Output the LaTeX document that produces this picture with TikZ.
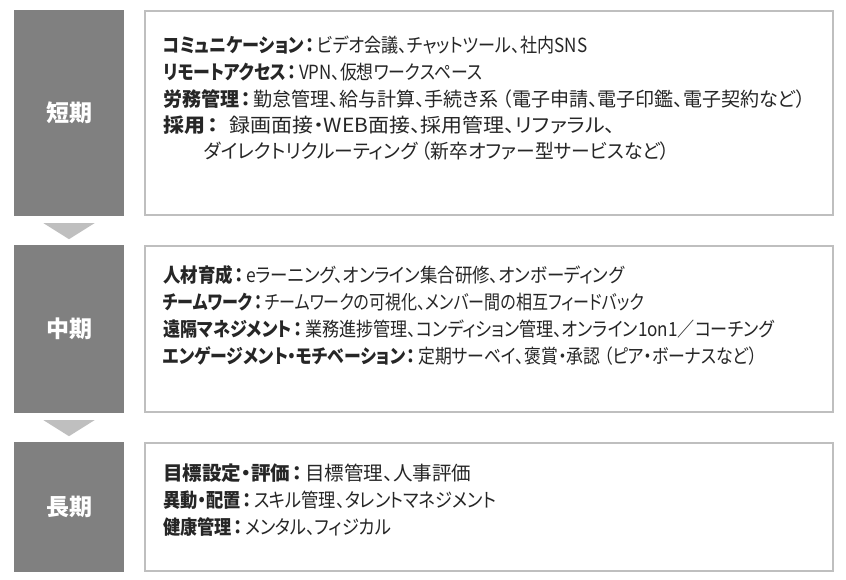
\documentclass[tikz,border=0pt]{standalone}
\usepackage{fontspec}
\usepackage{graphicx}
\setmainfont[RawFeature=+palt]{Noto Sans CJK JP}
\usetikzlibrary{calc}
\definecolor{termgray}{HTML}{808080}
\definecolor{framegray}{HTML}{BFBFBF}
\definecolor{inkgray}{HTML}{262626}
\newcommand\itemhead[1]{\textbf{#1\kern2pt：\kern3pt}}
% squeeze a line to the width it has in the chart
\newcommand\fitline[2]{\resizebox{#1pt}{\height}{#2}}
\tikzset{
  term/.style={fill=termgray, text=white, inner sep=0pt,
    font=\fontsize{23}{27}\selectfont\bfseries, minimum width=110pt},
  listframe/.style={draw=framegray, line width=1.5pt, fill=white,
    inner sep=0pt, minimum width=688pt},
  item/.style={anchor=west, inner sep=0pt, text=inkgray,
    font=\fontsize{19.5}{23}\selectfont},
  step arrow/.style={fill=framegray},
}
\begin{document}
\begin{tikzpicture}[x=1pt,y=-1pt]
        \useasboundingbox (0,0) rectangle (846,580);
        % three terms
        \node [term, minimum height=206pt] (short) at (69,113) {短期};
        \node [term, minimum height=168pt] (mid) at (69,329) {中期};
        \node [term, minimum height=130pt] (long) at (69,507) {長期};
        \node [listframe, minimum height=204pt] (short list) at (489,113) {};
        \node [listframe, minimum height=166pt] (mid list) at (489,329) {};
        \node [listframe, minimum height=128pt] (long list) at (489,507) {};
        % arrows between terms
        \fill
          [step arrow]
          ($(short.south)+(-25.5,7)$)
          -- ++(51,0)
          -- ++(-25.5,16)
          -- cycle
        ;
        \fill
          [step arrow]
          ($(mid.south)+(-25.5,7)$)
          -- ++(51,0)
          -- ++(-25.5,16)
          -- cycle
        ;
        % short term
        \node [item] (comm) at (163,45)
          {\fitline{424}{\itemhead{コミュニケーション}ビデオ会議、チャットツール、社内SNS}};
        \node [item] (remote) at (163,72)
          {\fitline{319}{\itemhead{リモートアクセス}VPN、仮想ワークスペース}};
        \node [item] (labor) at (163,99)
          {\fitline{642}{\itemhead{労務管理}勤怠管理、給与計算、手続き系 （電子申請、電子印鑑、電子契約など）}};
        \node [item] (hiring) at (163,125)
          {\fitline{452}{\itemhead{採用}\hspace{8pt}録画面接・WEB面接、採用管理、リファラル、}};
        \node [item] (hiring2) at (204,151)
          {\fitline{465}{ダイレクトリクルーティング （新卒オファー型サービスなど）}};
        % mid term
        \node [item] (training) at (163,275)
          {\fitline{461}{\itemhead{人材育成}eラーニング、オンライン集合研修、オンボーディング}};
        \node [item] (teamwork) at (163,302)
          {\fitline{481}{\itemhead{チームワーク}チームワークの可視化、メンバー間の相互フィードバック}};
        \node [item] (manage) at (163,329)
          {\fitline{611}{\itemhead{遠隔マネジメント}業務進捗管理、コンディション管理、オンライン1on1／コーチング}};
        \node [item] (engage) at (163,356)
          {\fitline{594}{\itemhead{エンゲージメント・モチベーション}定期サーベイ、褒賞・承認 （ピア・ボーナスなど）}};
        % long term
        \node [item] (goals) at (163,473)
          {\fitline{308}{\itemhead{目標設定・評価}目標管理、人事評価}};
        \node [item] (transfer) at (163,500)
          {\fitline{333}{\itemhead{異動・配置}スキル管理、タレントマネジメント}};
        \node [item] (health) at (163,527)
          {\fitline{228}{\itemhead{健康管理}メンタル、フィジカル}};
      \end{tikzpicture}
\end{document}
